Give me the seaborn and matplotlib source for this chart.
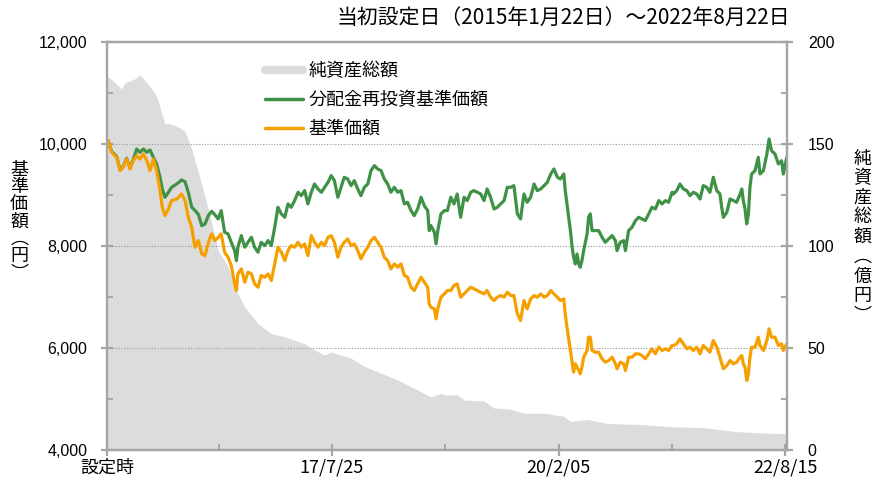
import matplotlib
matplotlib.use('Agg')
import matplotlib.pyplot as plt
import seaborn as sns
import pandas as pd
from matplotlib.lines import Line2D
from matplotlib.ticker import FuncFormatter, MultipleLocator

# 設定日からの経過日数と各系列の値
start = pd.Timestamp('2015-01-22')
end = pd.Timestamp('2022-08-22')

line_days = [
    0, 5, 19, 39, 53, 66, 80, 94, 107, 121, 134, 148, 162, 175, 189, 202, 216, 225, 236, 250,
    263, 284, 304, 318, 331, 345, 358, 372, 386, 399, 413, 426, 440, 453,
    465, 479, 493, 506, 520, 527, 533, 547, 561, 574, 588, 601, 615, 628, 642, 656, 669, 683,
    696, 710, 724, 737, 750, 764, 778, 791, 805, 818, 832, 845, 859, 873, 886, 900, 913,
    926, 940, 953, 966, 980, 994, 1007, 1021, 1034, 1048, 1062, 1075, 1089, 1102, 1116, 1129,
    1143, 1156, 1170, 1184, 1197, 1211, 1224, 1238, 1251, 1265, 1279, 1292, 1306, 1312, 1319,
    1333, 1340, 1347, 1360, 1374,
    1386, 1400, 1413, 1426, 1440, 1454, 1467, 1481, 1494, 1508, 1522, 1535, 1548, 1562, 1576,
    1589, 1603, 1617, 1630, 1644, 1657, 1671, 1684, 1698, 1711, 1725, 1739, 1752, 1766, 1780,
    1793, 1807, 1820, 1834,
    1846, 1860, 1866, 1873, 1887, 1894, 1900, 1907, 1914, 1921, 1927, 1934, 1941, 1955, 1961,
    1968, 1975, 1988, 2002, 2016, 2029, 2043, 2057, 2070, 2077, 2090, 2104, 2111, 2124, 2138,
    2152, 2165, 2178, 2192, 2206, 2219, 2233, 2247, 2260, 2274, 2287, 2301,
    2306, 2320, 2333, 2347, 2361, 2374, 2388, 2401, 2415, 2428, 2442, 2455, 2469, 2483, 2496,
    2503, 2510, 2524, 2537, 2551, 2564, 2578, 2585, 2591, 2598, 2605, 2612, 2618, 2625, 2639,
    2652, 2659, 2673, 2687, 2696, 2706, 2720, 2734, 2747, 2754, 2768,
]

# 分配金再投資基準価額
reinvest_nav = [
    10000, 10065, 9850, 9760, 9500, 9560, 9720, 9530, 9700, 9902, 9837, 9902, 9837, 9882, 9740,
    9608, 9347, 9118, 8955, 9053, 9151, 9216, 9295, 9260, 9050, 8760, 8700, 8620, 8400, 8430,
    8600, 8680, 8610, 8530,
    8694, 8270, 8237, 8073, 7910, 7714, 7976, 8204, 7976, 8073, 8171, 7976, 7878, 8073, 8008,
    8106, 8008, 8367, 8759, 8629, 8563, 8825, 8759, 8890, 9053, 8988, 9086, 8825, 9053, 9216,
    9118, 9053, 9151, 9249, 9380,
    9282, 8955, 9151, 9347, 9314, 9184, 9282, 9118, 8988, 9151, 9216, 9478, 9576, 9510, 9478,
    9314, 9216, 9053, 9151, 9053, 9086, 8825, 8857, 8694, 8596, 8726, 8955, 8792, 8694, 8302,
    8400, 8270, 8041, 8302, 8629, 8694,
    8694, 8955, 8825, 9020, 8563, 8955, 8890, 9053, 9086, 9053, 9020, 8890, 9118, 8955, 8726,
    8759, 8825, 8890, 9151, 9151, 9184, 8629, 8531, 9020, 8857, 8955, 9216, 9086, 9118, 9184,
    9249, 9412, 9510, 9350,
    9314, 9412, 9086, 8825, 8302, 7976, 7780, 7649, 7845, 7649, 7584, 7714, 7910, 8237, 8563,
    8629, 8302, 8302, 8302, 8171, 8073, 8139, 8204, 8106, 7910, 8073, 8106, 7910, 8302, 8367,
    8498, 8563, 8531, 8498, 8629, 8759, 8726, 8890, 8825, 8890, 8857, 9053,
    9020, 9086, 9216, 9118, 9086, 8988, 9053, 9020, 8922, 9184, 9151, 9053, 9347, 9086, 9020,
    8759, 8563, 8661, 8922, 8890, 8857, 9020, 9118, 8890, 8726, 8433, 8629, 9151, 9412, 9478,
    9739, 9412, 9478, 9804, 10098, 9869, 9804, 9608, 9673, 9412, 9739,
]

# 基準価額
nav = [
    10000, 10065, 9837, 9740, 9478, 9543, 9706, 9510, 9673, 9771, 9706, 9804, 9673, 9478, 9706,
    9478, 9086, 8759, 8596, 8726, 8890, 8922, 9020, 8890, 8563, 8367, 7975, 8106, 7845, 7812,
    8073, 8237, 8106, 8171,
    8237, 7878, 7780, 7616, 7257, 7127, 7453, 7551, 7290, 7486, 7453, 7257, 7192, 7421, 7388,
    7453, 7323, 7649, 7976, 7878, 7714, 7910, 8008, 7976, 8073, 7976, 8041, 7812, 8204, 8073,
    7976, 8073, 8008, 8171, 8204,
    8073, 7780, 7976, 8073, 8139, 8008, 8041, 7910, 7747, 7878, 7976, 8106, 8171, 8073, 7976,
    7780, 7714, 7551, 7649, 7584, 7649, 7421, 7388, 7192, 7127, 7257, 7388, 7290, 7192, 6865,
    6800, 6767, 6572, 6767, 6996, 7061,
    7127, 7127, 7225, 7257, 6996, 7061, 7127, 7192, 7160, 7127, 7094, 7061, 7127, 6996, 6931,
    6996, 7029, 6996, 7094, 7029, 7029, 6669, 6539, 6931, 6767, 6963, 7029, 6996, 7061, 6996,
    7029, 7127, 7061, 6996,
    6931, 6963, 6669, 6408, 5951, 5722, 5526, 5690, 5624, 5559, 5494, 5624, 5820, 5951, 6212,
    6212, 5951, 5918, 5918, 5788, 5722, 5755, 5820, 5690, 5592, 5722, 5690, 5559, 5820, 5820,
    5886, 5886, 5853, 5788, 5886, 5984, 5886, 6016, 5951, 5984, 5951, 6049,
    6049, 6082, 6180, 6082, 5984, 6016, 5951, 6016, 5886, 6049, 5984, 5918, 6147, 6016, 5820,
    5700, 5592, 5657, 5755, 5690, 5722, 5820, 5853, 5690, 5624, 5363, 5494, 5820, 6016, 6016,
    6212, 6049, 5951, 6147, 6376, 6212, 6212, 6049, 6082, 5951, 6082,
]

# 純資産総額（億円）
asset_days = [
    0, 5, 33, 60, 73, 94, 114, 134, 155, 175, 195, 209, 223, 236, 257, 277, 297, 318, 331, 346,
    379, 419, 452, 493, 527, 561, 615, 669, 724, 805, 845, 886, 913, 994, 1048, 1116, 1184, 1265,
    1319, 1360, 1374, 1426, 1454, 1535, 1576, 1644, 1698, 1780, 1834, 1860, 1887, 1955, 2036,
    2172, 2301, 2428, 2564, 2700, 2769,
]
net_assets = [
    182, 183, 180, 177, 180, 181, 182, 184, 181, 178, 175, 171, 165, 160, 160, 159, 158, 156, 152,
    147, 133, 115, 98, 90, 78, 70, 62, 57, 55.5, 52, 49, 46.6, 48, 45, 41, 37.6, 34.3, 29.4, 26,
    27.8, 27, 27, 24.5, 24, 20.6, 20, 18, 18, 17, 16.5, 14, 15, 13, 12.5, 11.4, 11, 9, 8.2, 8,
]

tick_dates = ['2015-01-22', '2017-07-25', '2020-02-05', '2022-08-15']
tick_labels = ['設定時', '17/7/25', '20/2/05', '22/8/15']
legend_labels = ['純資産総額', '分配金再投資基準価額', '基準価額']
title = '当初設定日（2015年1月22日）～2022年8月22日'

GRAY = '#dcdcdc'
GREEN = '#3f9146'
ORANGE = '#f5a000'
SPINE = '#a6a6a6'
JP = 'Noto Sans CJK JP'

sns.set_theme(style='white')
plt.rcParams['font.family'] = ['Liberation Sans', JP, 'DejaVu Sans']

line_dates = start + pd.to_timedelta(line_days, unit='D')
asset_dates = start + pd.to_timedelta(asset_days, unit='D')

fig = plt.figure(figsize=(8.72, 4.82), dpi=100)
ax = fig.add_axes([107 / 872, 32 / 482, 680 / 872, 408 / 482])
ax2 = ax.twinx()

# 純資産総額（右軸）のエリア
ax2.fill_between(asset_dates, net_assets, 0, color=GRAY, lw=0)
ax2.set_ylim(0, 200)
ax.set_zorder(ax2.get_zorder() + 1)
ax.patch.set_visible(False)

sns.lineplot(x=line_dates, y=reinvest_nav, ax=ax, color=GREEN, linewidth=2.3)
sns.lineplot(x=line_dates, y=nav, ax=ax, color=ORANGE, linewidth=2.3)

ax.set_xlim(start, end)
ax.set_ylim(4000, 12000)
ax.set_xlabel('')
ax.set_ylabel('')

ax.set_yticks(range(4000, 12001, 2000))
ax.yaxis.set_minor_locator(MultipleLocator(1000))
ax.yaxis.set_major_formatter(FuncFormatter(lambda v, p: f'{v:,.0f}'))
ax2.set_yticks(range(0, 201, 50))
ax2.yaxis.set_minor_locator(MultipleLocator(25))

tdates = pd.to_datetime(tick_dates)
ax.set_xticks(tdates)
ax.set_xticklabels(tick_labels, fontfamily=JP, fontsize=13)
mids = [tdates[i] + (tdates[i + 1] - tdates[i]) / 2 for i in range(len(tdates) - 1)]
ax.set_xticks(mids, minor=True)

ax.grid(axis='y', which='major', color='#9a9a9a', lw=0.8, ls=(0, (1, 1.5)))
ax.grid(axis='x', visible=False)

for a in (ax, ax2):
    for s in a.spines.values():
        s.set_color(SPINE)
        s.set_linewidth(1.6)
        s.set_visible(True)

ax.tick_params(axis='y', which='major', direction='inout', length=8, width=1.6, color=SPINE,
               labelsize=11.5, labelcolor='black', pad=10, left=True)
ax.tick_params(axis='y', which='minor', direction='in', length=4, width=1.4, color=SPINE, left=True)
ax.tick_params(axis='x', which='major', direction='inout', length=8, width=1.6, color=SPINE,
               labelcolor='black', pad=2, bottom=True)
ax.tick_params(axis='x', which='minor', direction='in', length=4, width=1.4, color=SPINE, bottom=True)
ax2.tick_params(axis='y', which='major', direction='inout', length=8, width=1.6, color=SPINE,
                labelsize=11.5, labelcolor='black', pad=11, right=True)
ax2.tick_params(axis='y', which='minor', direction='in', length=4, width=1.4, color=SPINE, right=True)

handles = [Line2D([], [], color=GRAY, lw=6),
           Line2D([], [], color=GREEN, lw=2.5),
           Line2D([], [], color=ORANGE, lw=2.5)]
leg = ax.legend(handles, legend_labels, loc='upper left', bbox_to_anchor=(0.233, 0.95),
                frameon=False, prop={'family': JP, 'size': 13}, handlelength=2.1,
                handletextpad=0.3, labelspacing=0.6, borderpad=0, borderaxespad=0)
for t in leg.get_texts():
    t.set_color('black')

fig.text(0.906, 0.963, title, ha='right', va='center', fontsize=15, family=JP, color='black')
fig.text(0.022, 0.54, '\n'.join('基準価額︵円︶'), ha='center', va='center', fontsize=13,
         family=JP, color='black', linespacing=0.95)
fig.text(0.989, 0.508, '\n'.join('純資産総額︵億円︶'), ha='center', va='center', fontsize=13,
         family=JP, color='black', linespacing=1.12)

fig.savefig('out.png', dpi=100)
